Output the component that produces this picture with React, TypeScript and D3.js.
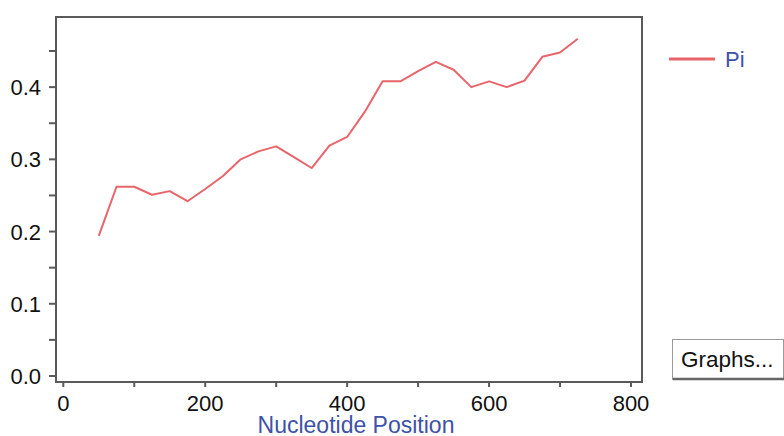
import React from "react";
import * as d3 from "d3";

const positions = [50, 75, 100, 125, 150, 175, 200, 225, 250, 275, 300, 325, 350, 375, 400, 425, 450, 475, 500, 525, 550, 575, 600, 625, 650, 675, 700, 725];
const piValues = [0.194, 0.262, 0.262, 0.251, 0.256, 0.242, 0.259, 0.277, 0.300, 0.311, 0.318, 0.303, 0.288, 0.319, 0.331, 0.366, 0.408, 0.408, 0.422, 0.435, 0.424, 0.400, 0.408, 0.400, 0.409, 0.442, 0.448, 0.467];
const xMajorTicks = [0, 200, 400, 600, 800];
const xMinorTicks = [100, 300, 500, 700];
const yMajorTicks = [0, 0.1, 0.2, 0.3, 0.4];
const yMinorTicks = [0.05, 0.15, 0.25, 0.35, 0.45];
const seriesName = "Pi";
const xLabel = "Nucleotide Position";
const buttonLabel = "Graphs...";

const W = 784;
const H = 436;
const box = { left: 56, top: 17, right: 642, bottom: 382 };
const FONT = "'Liberation Sans', Arial, sans-serif";
const RED = "#e8656b";
const BLUE = "#3e52a8";
const AXIS = "#5a5a5a";

export default function App() {
  const x = d3.scaleLinear().domain([0, 800]).range([63.3, 631]);
  const y = d3.scaleLinear().domain([0, 0.5]).range([376, 14.9]);
  const pts = positions.map((p, i) => [p, piValues[i]] as [number, number]);
  const line = d3
    .line<[number, number]>()
    .x((d) => x(d[0]))
    .y((d) => y(d[1]));

  return (
    <svg
      width={W}
      height={H}
      style={{ position: "absolute", left: 0, top: 0, background: "#fff" }}
      fontFamily={FONT}
    >
      <rect x={0} y={0} width={W} height={H} fill="#fff" />
      <rect
        x={box.left}
        y={box.top}
        width={box.right - box.left}
        height={box.bottom - box.top}
        fill="#fff"
        stroke={AXIS}
        strokeWidth={2}
      />
      {yMajorTicks.map((t) => (
        <g key={"ym" + t}>
          <line x1={box.left - 7} x2={box.left} y1={y(t)} y2={y(t)} stroke={AXIS} strokeWidth={2} />
          <text x={41} y={y(t) + 8} textAnchor="end" fontSize={22} fill="#111">
            {d3.format(".1f")(t)}
          </text>
        </g>
      ))}
      {yMinorTicks.map((t) => (
        <line key={"yn" + t} x1={box.left - 7} x2={box.left} y1={y(t)} y2={y(t)} stroke={AXIS} strokeWidth={2} />
      ))}
      {xMajorTicks.map((t) => (
        <g key={"xm" + t}>
          <line x1={x(t)} x2={x(t)} y1={box.bottom} y2={box.bottom + 5} stroke={AXIS} strokeWidth={2} />
          <text x={x(t)} y={411} textAnchor="middle" fontSize={22} fill="#111">
            {t}
          </text>
        </g>
      ))}
      {xMinorTicks.map((t) => (
        <line key={"xn" + t} x1={x(t)} x2={x(t)} y1={box.bottom} y2={box.bottom + 5} stroke={AXIS} strokeWidth={2} />
      ))}
      <text x={356} y={433} textAnchor="middle" fontSize={23} fill={BLUE}>
        {xLabel}
      </text>
      <path d={line(pts) || ""} fill="none" stroke={RED} strokeWidth={2} strokeLinejoin="round" />
      <line x1={669} x2={715} y1={59} y2={59} stroke={RED} strokeWidth={3} />
      <text x={725} y={67} fontSize={22} fill={BLUE}>
        {seriesName}
      </text>
      <rect x={672.5} y={339.5} width={111} height={40} fill="#fff" stroke="#9a9a9a" strokeWidth={1} />
      <line x1={673} x2={784} y1={379} y2={379} stroke="#666" strokeWidth={2.5} />
      <text x={681} y={367} fontSize={22.5} fill="#111">
        {buttonLabel}
      </text>
    </svg>
  );
}
